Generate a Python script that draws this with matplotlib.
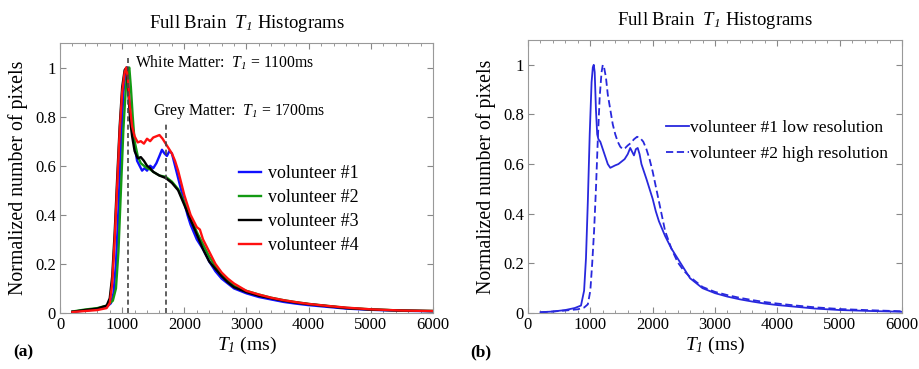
import numpy as np
import matplotlib
matplotlib.use('Agg')
import matplotlib.pyplot as plt
from matplotlib.ticker import MultipleLocator

# italic everywhere inside math so that the subscript "1" is slanted too
plt.rcParams.update({'font.family': 'Liberation Serif',
                     'mathtext.fontset': 'custom',
                     'mathtext.rm': 'Liberation Serif:italic',
                     'mathtext.it': 'Liberation Serif:italic',
                     'font.size': 10})

# ---- panel (a): four volunteers ----
t_v1 = [200, 400, 600, 750, 820, 860, 900, 940, 980, 1020, 1060, 1080, 1100, 1130, 1160, 1200, 1240,
        1280, 1320, 1360, 1400, 1450, 1500, 1550, 1600, 1640, 1680, 1720, 1760, 1800, 1850, 1900, 1950,
        2000, 2050, 2100, 2200, 2300, 2400, 2500, 2600, 2700, 2800, 2900, 3000, 3200, 3400, 3600, 3800,
        4000, 4300, 4600, 5000, 5500, 6000]
y_v1 = [0.005, 0.01, 0.015, 0.025, 0.04, 0.08, 0.2, 0.42, 0.68, 0.9, 0.99, 1.0, 0.93, 0.8, 0.76, 0.68,
        0.62, 0.6, 0.58, 0.59, 0.58, 0.6, 0.59, 0.61, 0.64, 0.665, 0.65, 0.64, 0.66, 0.65, 0.6, 0.55,
        0.5, 0.45, 0.4, 0.36, 0.3, 0.26, 0.21, 0.17, 0.14, 0.12, 0.1, 0.09, 0.08, 0.065, 0.055, 0.045,
        0.038, 0.032, 0.025, 0.018, 0.013, 0.009, 0.007]

t_v2 = [200, 400, 600, 750, 850, 900, 940, 980, 1020, 1060, 1090, 1115, 1140, 1170, 1200, 1250, 1300,
        1350, 1400, 1450, 1500, 1600, 1700, 1800, 1900, 2000, 2100, 2200, 2300, 2400, 2500, 2600, 2700,
        2800, 3000, 3200, 3400, 3600, 3800, 4000, 4300, 4600, 5000, 5500, 6000]
y_v2 = [0.006, 0.014, 0.02, 0.03, 0.05, 0.1, 0.25, 0.5, 0.75, 0.92, 0.99, 1.0, 0.92, 0.8, 0.7, 0.64,
        0.61, 0.6, 0.59, 0.585, 0.575, 0.56, 0.555, 0.535, 0.505, 0.45, 0.39, 0.33, 0.28, 0.23, 0.19,
        0.16, 0.135, 0.11, 0.09, 0.075, 0.062, 0.052, 0.044, 0.037, 0.029, 0.021, 0.015, 0.01, 0.008]

t_v3 = [200, 400, 600, 750, 800, 840, 880, 920, 960, 1000, 1040, 1070, 1100, 1130, 1160, 1200, 1250,
        1300, 1350, 1400, 1450, 1500, 1600, 1700, 1800, 1900, 2000, 2100, 2200, 2300, 2400, 2500, 2600,
        2700, 2800, 3000, 3200, 3400, 3600, 3800, 4000, 4300, 4600, 5000, 5500, 6000]
y_v3 = [0.005, 0.012, 0.018, 0.03, 0.06, 0.15, 0.33, 0.55, 0.76, 0.92, 0.99, 1.0, 0.9, 0.78, 0.72,
        0.66, 0.63, 0.635, 0.62, 0.6, 0.59, 0.575, 0.56, 0.55, 0.53, 0.5, 0.44, 0.38, 0.32, 0.26, 0.21,
        0.18, 0.15, 0.125, 0.105, 0.085, 0.07, 0.06, 0.05, 0.042, 0.036, 0.028, 0.02, 0.014, 0.01, 0.008]

t_v4 = [200, 400, 600, 750, 800, 840, 880, 920, 960, 1000, 1040, 1065, 1090, 1120, 1160, 1200, 1250,
        1300, 1350, 1400, 1450, 1500, 1550, 1600, 1650, 1700, 1750, 1800, 1850, 1900, 1950, 2000, 2100,
        2200, 2250, 2300, 2400, 2500, 2600, 2700, 2800, 3000, 3200, 3400, 3600, 3800, 4000, 4300, 4600,
        5000, 5500, 6000]
y_v4 = [0.004, 0.008, 0.012, 0.02, 0.04, 0.12, 0.3, 0.52, 0.74, 0.9, 0.98, 1.0, 0.96, 0.85, 0.76,
        0.72, 0.695, 0.7, 0.69, 0.71, 0.7, 0.715, 0.72, 0.725, 0.71, 0.69, 0.67, 0.65, 0.62, 0.58, 0.53,
        0.48, 0.4, 0.35, 0.34, 0.3, 0.25, 0.2, 0.165, 0.14, 0.12, 0.09, 0.075, 0.062, 0.052, 0.044,
        0.037, 0.029, 0.022, 0.015, 0.01, 0.008]

labels_a = ['volunteer #1', 'volunteer #2', 'volunteer #3', 'volunteer #4']
colors_a = ['#1010ff', '#139a13', '#000000', '#ff1010']

# ---- panel (b): low vs high resolution ----
t_low = [200, 400, 600, 750, 850, 900, 930, 960, 990, 1020, 1040, 1055, 1070, 1090, 1110, 1130, 1160,
         1200, 1240, 1280, 1320, 1360, 1400, 1450, 1500, 1550, 1600, 1640, 1670, 1700, 1730, 1760, 1790,
         1820, 1860, 1900, 1950, 2000, 2050, 2100, 2200, 2300, 2400, 2500, 2600, 2700, 2800, 3000, 3200,
         3400, 3600, 3800, 4000, 4300, 4600, 5000, 5500, 6000]
y_low = [0.003, 0.006, 0.012, 0.02, 0.03, 0.09, 0.22, 0.45, 0.72, 0.93, 0.99, 1.0, 0.97, 0.82, 0.72,
         0.7, 0.69, 0.66, 0.63, 0.6, 0.585, 0.59, 0.595, 0.6, 0.61, 0.62, 0.64, 0.665, 0.65, 0.635, 0.66,
         0.665, 0.64, 0.6, 0.57, 0.54, 0.5, 0.46, 0.41, 0.37, 0.31, 0.26, 0.22, 0.18, 0.14, 0.12, 0.1,
         0.08, 0.066, 0.055, 0.046, 0.038, 0.032, 0.025, 0.018, 0.012, 0.008, 0.005]

t_high = [200, 400, 600, 800, 900, 960, 1000, 1030, 1060, 1090, 1120, 1150, 1180, 1200, 1220, 1250,
          1280, 1320, 1360, 1400, 1440, 1480, 1520, 1560, 1600, 1650, 1700, 1750, 1800, 1850, 1900, 1950,
          2000, 2050, 2100, 2200, 2300, 2400, 2500, 2600, 2700, 2800, 3000, 3200, 3400, 3600, 3800, 4000,
          4300, 4600, 5000, 5500, 6000]
y_high = [0.003, 0.006, 0.01, 0.015, 0.022, 0.035, 0.09, 0.2, 0.33, 0.5, 0.7, 0.87, 0.97, 1.0, 0.99,
          0.95, 0.88, 0.82, 0.76, 0.72, 0.69, 0.67, 0.66, 0.665, 0.675, 0.685, 0.7, 0.71, 0.705, 0.69,
          0.66, 0.62, 0.57, 0.51, 0.45, 0.33, 0.26, 0.205, 0.17, 0.145, 0.125, 0.105, 0.085, 0.072, 0.061,
          0.052, 0.044, 0.038, 0.03, 0.023, 0.016, 0.011, 0.007]

labels_b = ['volunteer #1 low resolution', 'volunteer #2 high resolution']

xticks = [0, 1000, 2000, 3000, 4000, 5000, 6000]
yticks = [0, 0.2, 0.4, 0.6, 0.8, 1]
ytick_labels = ['0', '0.2', '0.4', '0.6', '0.8', '1']

T1 = r'$T_{1}$'


def style_axes(ax):
    ax.set_xlim(0, 6000)
    ax.set_ylim(0, 1.1)
    ax.set_xticks(xticks)
    ax.set_yticks(yticks)
    ax.set_yticklabels(ytick_labels)
    ax.xaxis.set_minor_locator(MultipleLocator(200))
    ax.tick_params(which='both', direction='in', top=True, right=True,
                   color='#888888', labelsize=12, pad=3)
    ax.tick_params(which='major', length=4)
    ax.tick_params(which='minor', length=2)
    for s in ax.spines.values():
        s.set_color('#999999')
        s.set_linewidth(0.8)
    ax.set_title('Full Brain  ' + T1 + ' Histograms', fontsize=13.5, pad=11)
    ax.set_xlabel(T1 + ' (ms)', fontsize=14, labelpad=1)
    ax.set_ylabel('Normalized number of pixels', fontsize=14.3, labelpad=5)


fig = plt.figure(figsize=(9.19, 3.69), dpi=100)
ax1 = fig.add_axes([60 / 919, 56 / 369, 373 / 919, 270 / 369])
ax2 = fig.add_axes([528 / 919, 56 / 369, 374 / 919, 273 / 369])

# panel (a)
series_a = [(t_v1, y_v1), (t_v2, y_v2), (t_v3, y_v3), (t_v4, y_v4)]
for (t, y), c, lab in zip(series_a, colors_a, labels_a):
    ax1.plot(t, y, color=c, lw=1.7, label=lab)
ax1.plot([1100, 1100], [0, 1.04], ls='--', color='#444444', lw=1.2, dashes=(3, 2))
ax1.plot([1700, 1700], [0, 0.77], ls='--', color='#444444', lw=1.2, dashes=(3, 2))
ax1.text(1210, 1.02, 'White Matter:  ' + T1 + ' = 1100ms', fontsize=11.3, va='center')
ax1.text(1490, 0.82, 'Grey Matter:  ' + T1 + ' = 1700ms', fontsize=11.3, va='center')
ax1.legend(loc='upper left', bbox_to_anchor=(0.455, 0.58), frameon=False, fontsize=13,
           handlelength=1.25, handletextpad=0.35, labelspacing=0.38, borderpad=0)
style_axes(ax1)

# panel (b)
ax2.plot(t_low, y_low, color='#2828dd', lw=1.3, label=labels_b[0])
ax2.plot(t_high, y_high, color='#2828dd', lw=1.3, ls='--', dashes=(4, 2), label=labels_b[1])
ax2.legend(loc='upper left', bbox_to_anchor=(0.345, 0.74), frameon=False, fontsize=12.6,
           handlelength=1.35, handletextpad=0.05, labelspacing=0.55, borderpad=0)
style_axes(ax2)

fig.text(23 / 919, 1 - 352 / 369, '(a)', fontsize=12.5, fontweight='bold', ha='center', va='center')
fig.text(481 / 919, 1 - 352 / 369, '(b)', fontsize=12.5, fontweight='bold', ha='center', va='center')

fig.savefig('out.png', dpi=100)
